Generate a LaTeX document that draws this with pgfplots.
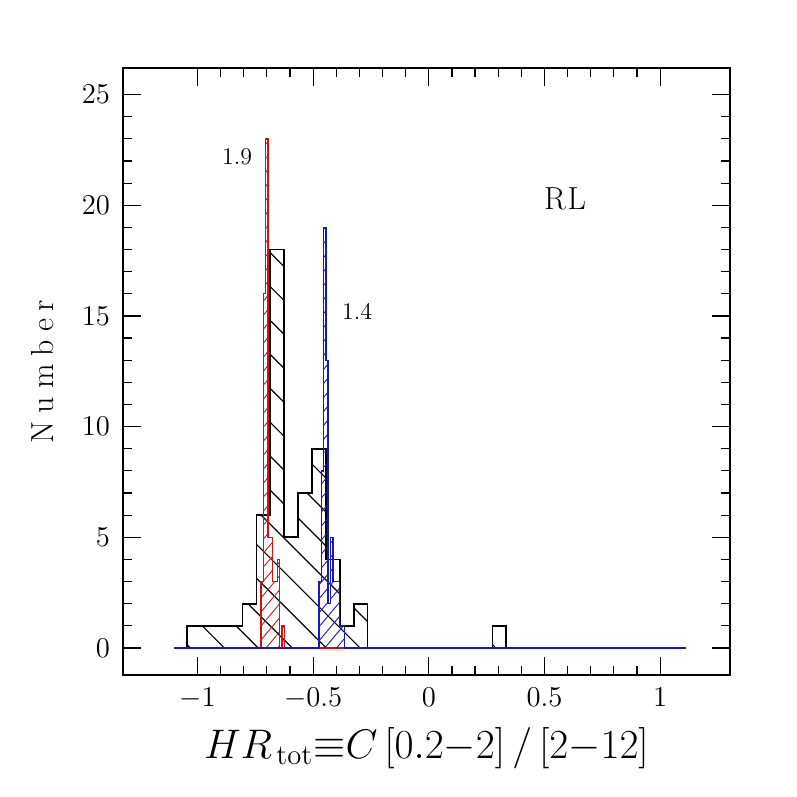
\documentclass[border=0pt]{standalone}
\usepackage{pgfplots}
\pgfplotsset{compat=1.18}
\usetikzlibrary{patterns.meta}
\definecolor{hred}{RGB}{205,20,20}
\definecolor{hblue}{RGB}{25,25,185}

\begin{document}
\begin{tikzpicture}
\begin{axis}[
  scale only axis, width=303.5bp, height=303.5bp,
  xmin=-1.322, xmax=1.302, ymin=-1.22, ymax=26.2,
  xtick={-1,-0.5,0,0.5,1}, ytick={0,5,...,25},
  minor x tick num=4, minor y tick num=4,
  tick align=inside,
  major tick length=9bp, minor tick length=4.5bp,
  every tick/.style={black, line width=0.6bp},
  axis line style={line width=0.8bp},
  tick label style={font=\fontsize{15}{17}\selectfont},
  xticklabel style={yshift=-3bp},
  yticklabel style={xshift=-3bp},
  xlabel={$HR_{\,\mathrm{tot}}{\equiv}C\,[0.2{-}2]\,/\,[2{-}12]$},
  ylabel={N\hspace{4bp}u\hspace{4bp}m\hspace{4bp}b\hspace{4bp}e\hspace{4bp}r},
  xlabel style={font=\fontsize{20}{24}\selectfont, at={(axis description cs:0.5,-0.12)}, anchor=center},
  ylabel style={font=\fontsize{16}{19}\selectfont, at={(axis description cs:-0.133,0.5)}, anchor=center},
]
% all sources
\addplot[const plot, black, line width=0.9bp,
  pattern={Lines[angle=-45,distance=12bp,line width=0.6bp]}, pattern color=black]
  coordinates {(-1.1,0) (-1.045,1) (-0.805,2) (-0.745,6) (-0.685,18) (-0.625,5)
    (-0.565,7) (-0.505,9) (-0.445,4) (-0.385,1) (-0.325,2) (-0.265,0)
    (0.275,1) (0.335,0) (1.11,0)};
% Gamma = 1.9
\addplot[const plot, draw=hred, line width=0.7bp,
  pattern={Lines[angle=50,distance=4.5bp,line width=0.45bp]}, pattern color=hred]
  coordinates {(-1.1,0) (-0.725,3) (-0.715,16) (-0.705,23) (-0.695,5) (-0.685,5)
    (-0.675,3) (-0.665,3) (-0.655,4) (-0.645,0) (-0.635,1) (-0.625,0) (1.11,0)};
% Gamma = 1.4
\addplot[const plot, draw=hblue, line width=0.7bp,
  pattern={Lines[angle=50,distance=4.5bp,line width=0.45bp]}, pattern color=hblue]
  coordinates {(-1.1,0) (-0.475,3) (-0.465,8) (-0.455,19) (-0.445,13) (-0.435,2)
    (-0.425,5) (-0.415,3) (-0.385,1) (-0.365,0) (1.11,0)};
\node[font=\fontsize{12}{14}\selectfont] at (axis cs:-0.829,22.2) {1.9};
\node[font=\fontsize{12}{14}\selectfont] at (axis cs:-0.31,15.2) {1.4};
\node[font=\fontsize{16}{18}\selectfont] at (axis cs:0.589,20.3) {R\hspace{1bp}L};
\end{axis}
\path (current axis.south west) ++(-61.5bp,-61bp) rectangle ++(398.5bp,398.5bp);
\end{tikzpicture}
\end{document}
